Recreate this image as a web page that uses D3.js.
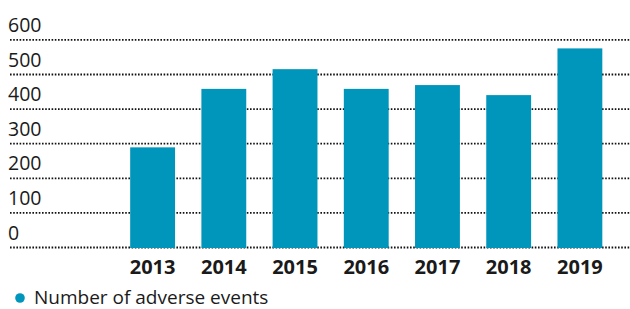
<!DOCTYPE html>
<html>
<head>
<meta charset="utf-8">
<script src="https://cdn.jsdelivr.net/npm/d3@7"></script>
<style>
  body { margin: 0; background: #fff; }
  svg { display: block; font-family: "Open Sans", sans-serif; }
</style>
</head>
<body>
<div class="grafico"></div>
<script>
// dados
var anos = ["2013", "2014", "2015", "2016", "2017", "2018", "2019"];
var eventos = [288, 457, 514, 457, 468, 439, 574];
var ticks = [0, 100, 200, 300, 400, 500, 600];
var legenda = ["Number of adverse events"];

var width = 630;
var height = 309;
var cor = "#0096bc";

var svg = d3.select(".grafico")
  .append("svg")
  .attr("width", width)
  .attr("height", height);

// escalas
var x = d3.scaleBand()
  .domain(anos)
  .range([117, 615.5])
  .paddingInner(0.37)
  .paddingOuter(0.185);

var y = d3.scaleLinear()
  .domain([0, 600])
  .range([247, 39.4]);

// linhas pontilhadas e rótulos do eixo y
var grade = svg.append("g");
grade.selectAll("line")
  .data(ticks)
  .enter()
  .append("line")
  .attr("x1", 10)
  .attr("x2", width)
  .attr("y1", function(d){ return y(d) + 0.5; })
  .attr("y2", function(d){ return y(d) + 0.5; })
  .attr("stroke", "#111")
  .attr("stroke-width", 1.8)
  .attr("stroke-dasharray", "1.6,1.6");

grade.selectAll("text")
  .data(ticks)
  .enter()
  .append("text")
  .attr("x", 8)
  .attr("y", function(d){ return y(d) - 7.5; })
  .attr("font-size", 19.5)
  .attr("fill", "#1a1a1a")
  .text(function(d){ return d; });

// barras
svg.selectAll("rect")
  .data(anos)
  .enter()
  .append("rect")
  .attr("x", function(d){ return x(d); })
  .attr("width", x.bandwidth())
  .attr("y", function(d, i){ return y(eventos[i]); })
  .attr("height", function(d, i){ return y(0) - y(eventos[i]) + 1; })
  .attr("fill", cor);

// eixo x
var eixoX = d3.axisBottom(x).tickSize(0).tickPadding(0);
var gx = svg.append("g")
  .attr("transform", "translate(0,255)")
  .call(eixoX);
gx.select(".domain").remove();
gx.selectAll("text")
  .attr("font-family", "Open Sans, sans-serif")
  .attr("font-size", 20)
  .attr("font-weight", "bold")
  .attr("fill", "#1a1a1a")
  .attr("dy", "0.95em");

// legenda
var leg = svg.append("g").attr("transform", "translate(20,298)");
leg.append("circle")
  .attr("r", 4.8)
  .attr("fill", cor);
leg.append("text")
  .attr("x", 14)
  .attr("y", 5.5)
  .attr("font-size", 19)
  .attr("fill", "#1a1a1a")
  .text(legenda[0]);
</script>
</body>
</html>
